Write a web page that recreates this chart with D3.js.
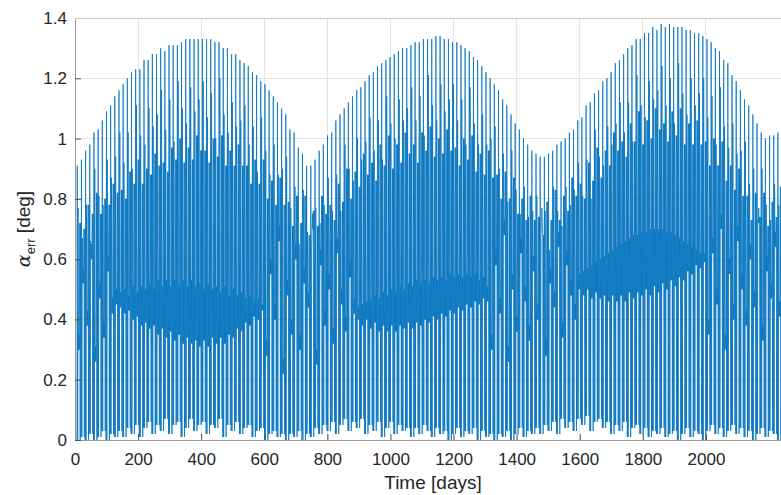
<!DOCTYPE html>
<html><head><meta charset="utf-8">
<script src="https://cdn.jsdelivr.net/npm/d3@7"></script>
<style>
body{margin:0;background:#fff;}
svg{display:block;font-family:"Liberation Sans",Arial,sans-serif;}
</style>
</head><body>
<svg id="c" width="781" height="495"></svg>
<script>
// ---- data ----
const xTicks=[0,200,400,600,800,1000,1200,1400,1600,1800,2000];
const yTicks=[0,0.2,0.4,0.6,0.8,1,1.2,1.4];
const xLimit=[0,2238];
const yLimit=[0,1.4];
const cycleStart=5.9;     // day of the first visible oscillation cycle
const cyclePeriod=13.22;  // days per visible oscillation cycle
const peaks=[0.91,0.93,0.96,0.98,1.02,1.03,1.06,1.09,1.11,1.14,1.16,1.18,1.20,1.22,1.23,1.23,1.26,1.26,1.28,1.28,1.30,1.29,1.31,1.31,1.31,1.32,1.33,1.33,1.33,1.33,1.33,1.33,1.33,1.32,1.32,1.30,1.30,1.28,1.28,1.26,1.25,1.24,1.22,1.21,
1.19,1.18,1.16,1.14,1.12,1.10,1.08,1.03,1.02,0.97,0.95,0.91,0.91,0.93,0.96,0.98,1.01,1.02,1.06,
1.08,1.10,1.12,1.14,1.16,1.17,1.19,1.21,1.22,1.24,1.25,1.26,1.27,1.28,1.29,1.30,1.30,1.31,1.32,1.32,1.33,1.33,1.33,1.34,1.34,1.33,1.33,1.32,1.32,1.31,1.30,1.29,1.27,1.26,1.24,1.22,1.20,1.18,1.16,1.13,1.11,1.08,1.05,1.03,1.00,0.98,0.96,0.95,
0.94,0.94,0.95,0.96,0.98,0.99,1.00,1.02,1.03,1.06,1.07,1.11,1.12,1.15,1.16,1.19,1.20,1.22,1.25,1.26,1.28,1.30,1.31,1.33,1.33,1.35,1.35,1.37,1.36,1.38,1.37,1.38,1.37,1.37,1.37,1.36,1.36,1.35,1.35,1.34,1.33,1.32,1.30,1.29,1.26,1.25,1.21,1.19,1.16,1.13,1.11,1.08,1.05,1.02,1.00,1.01,1.01,1.02];
const secondPeaks=[.77,.67,.78,.66,.90,.81,.78,.93,.87,.94,
1.02,.92,1.02,.90,1.11,1.01,.98,1.10,1.04,1.08,
1.16,1.03,1.13,.99,1.19,1.10,1.05,1.17,1.09,1.13,
1.19,1.07,1.15,1.00,1.20,1.08,1.02,1.12,1.04,1.06,
1.11,.98,1.04,.89,1.07,.96,.88,.98,.88,.90,
.94,.77,.84,.65,.83,.69,.63,.77,.72,.78,
.87,.76,.88,.76,.98,.90,.86,1.00,.93,.99,
1.07,.96,1.06,.93,1.14,1.05,1.00,1.13,1.06,1.10,
1.17,1.06,1.14,1.01,1.21,1.11,1.06,1.18,1.09,1.13,
1.18,1.06,1.13,.98,1.17,1.05,.98,1.08,.98,1.00,
1.04,.90,.95,.79,.96,.83,.75,.84,.74,.76,
.81,.68,.76,.63,.84,.76,.71,.84,.78,.83,
.92,.81,.93,.80,1.03,.94,.91,1.04,.98,1.05,
1.12,1.02,1.12,.99,1.21,1.11,1.07,1.19,1.13,1.16,
1.24,1.11,1.20,1.05,1.25,1.15,1.08,1.20,1.11,1.15,
1.20,1.07,1.14,.98,1.17,1.04,.97,1.05,.95,.96,
.99,.85,.90,.73,.90,.78,.73,.85,.78];
const floors=[0.00,0.01,0.00,0.02,0.00,0.01,0.03,0.00,0.02,0.01,
0.03,0.01,0.04,0.02,0.05,0.01,0.04,0.06,0.02,0.05,
0.03,0.07,0.02,0.05,0.06,0.01,0.04,0.07,0.03,0.05,
0.06,0.02,0.05,0.04,0.07,0.01,0.05,0.03,0.06,0.02,
0.04,0.05,0.01,0.03,0.04,0.00,0.02,0.03,0.01,0.02,
0.00,0.02,0.01,0.03,0.00,0.02,0.01,0.04,0.02,0.05,
0.03,0.06,0.02,0.05,0.07,0.03,0.06,0.04,0.07,0.02,
0.05,0.03,0.06,0.01,0.04,0.06,0.02,0.05,0.03,0.04,
0.01,0.04,0.02,0.05,0.03,0.01,0.04,0.02,0.03,0.00,
0.02,0.04,0.01,0.03,0.02,0.04,0.00,0.03,0.01,0.02,
0.00,0.02,0.01,0.03,0.00,0.02,0.04,0.01,0.03,0.02,
0.04,0.02,0.05,0.03,0.06,0.02,0.07,0.04,0.06,0.03,
0.07,0.05,0.08,0.03,0.06,0.07,0.04,0.06,0.02,0.05,
0.03,0.06,0.01,0.04,0.05,0.02,0.04,0.01,0.03,0.02,
0.04,0.01,0.02,0.03,0.00,0.02,0.04,0.01,0.03,0.02,
0.00,0.03,0.05,0.02,0.04,0.01,0.03,0.05,0.02,0.04,
0.01,0.03,0.00,0.02,0.04,0.01,0.03,0.02,0.00];
const upper=[.72,.70,.78,.75,.82,.75,.80,.78,.85,.82,
.83,.80,.89,.85,.93,.85,.90,.88,.95,.91,
.92,.89,.97,.93,1.00,.92,.97,.93,1.01,.96,
.96,.92,1.00,.94,1.01,.91,.96,.91,.98,.91,
.91,.85,.93,.85,.93,.80,.86,.78,.87,.78,
.79,.71,.81,.72,.81,.68,.76,.71,.81,.75,
.78,.73,.85,.79,.90,.80,.89,.84,.95,.88,
.92,.86,.98,.91,1.01,.90,.98,.92,1.02,.95,
.98,.92,1.02,.96,1.04,.94,1.00,.95,1.03,.96,
.97,.91,1.00,.93,1.01,.89,.95,.88,.96,.87,
.88,.80,.89,.80,.87,.75,.80,.73,.81,.73,
.74,.68,.79,.73,.83,.73,.81,.76,.87,.81,
.85,.80,.92,.86,.97,.87,.96,.91,1.02,.96,
.99,.94,1.05,.99,1.09,.98,1.06,1.00,1.10,1.03,
1.05,.99,1.09,1.01,1.10,.98,1.05,.98,1.06,.98,
.99,.91,1.00,.91,.99,.86,.91,.83,.90,.81,
.81,.73,.82,.74,.82,.71,.79,.74,.84];
const blobLow=[.30,.52,.38,.60,.26,.47,.34,.56,.42,.45,
.44,.42,.43,.40,.41,.38,.39,.37,.38,.35,
.37,.34,.36,.33,.35,.32,.34,.32,.33,.31,
.33,.31,.34,.32,.34,.32,.35,.34,.37,.36,
.39,.38,.41,.40,.43,.28,.55,.40,.66,.22,
.48,.35,.60,.30,.52,.44,.70,.25,.58,.38,
.50,.32,.62,.45,.36,.54,.42,.40,.38,.40,
.37,.39,.36,.38,.36,.38,.36,.38,.37,.39,
.37,.39,.38,.40,.39,.41,.40,.42,.41,.43,
.42,.44,.43,.45,.44,.46,.45,.47,.46,.30,
.58,.42,.68,.26,.50,.36,.62,.46,.33,.56,
.40,.72,.28,.52,.44,.64,.34,.58,.48,.40,
.50,.48,.50,.47,.49,.47,.48,.46,.48,.46,
.48,.46,.49,.47,.49,.48,.50,.48,.51,.49,
.52,.50,.53,.51,.54,.53,.56,.55,.58,.57,
.59,.35,.62,.45,.70,.30,.55,.40,.66,.50,
.38,.60,.44,.72,.33,.56,.47,.64,.41];
const blobHigh=[.35,.57,.43,.65,.31,.52,.39,.61,.47,.50,
.49,.50,.48,.51,.49,.51,.50,.52,.50,.53,
.51,.53,.51,.53,.51,.53,.51,.53,.51,.52,
.50,.52,.50,.51,.49,.51,.48,.50,.48,.49,
.47,.48,.46,.47,.45,.33,.60,.45,.71,.27,
.53,.40,.65,.35,.57,.49,.75,.30,.63,.43,
.55,.37,.67,.50,.41,.59,.47,.44,.45,.46,
.46,.48,.47,.49,.48,.50,.49,.51,.50,.52,
.51,.53,.52,.53,.52,.54,.53,.54,.53,.55,
.54,.55,.54,.55,.54,.55,.53,.54,.51,.35,
.63,.47,.73,.31,.55,.41,.67,.51,.38,.61,
.45,.77,.33,.57,.49,.69,.39,.63,.53,.45,
.55,.56,.57,.58,.59,.60,.61,.62,.63,.64,
.65,.66,.67,.68,.68,.69,.69,.70,.70,.70,
.70,.69,.69,.68,.67,.66,.65,.64,.63,.62,
.62,.40,.67,.50,.75,.35,.60,.45,.71,.55,
.43,.65,.49,.77,.38,.61,.52,.69,.46];

// ---- layout ----
const L=75, R=781, T=18, B=440;
const svg=d3.select("#c");
const x=d3.scaleLinear().domain(xLimit).range([L,R]);
const y=d3.scaleLinear().domain(yLimit).range([B,T]);

// grid
const g=svg.append("g");
g.selectAll(".gx").data(xTicks).enter().append("line")
 .attr("x1",d=>x(d)).attr("x2",d=>x(d)).attr("y1",T).attr("y2",B)
 .attr("stroke","#e4e4e4").attr("stroke-width",1).attr("shape-rendering","crispEdges");
g.selectAll(".gy").data(yTicks).enter().append("line")
 .attr("x1",L).attr("x2",R).attr("y1",d=>y(d)).attr("y2",d=>y(d))
 .attr("stroke","#e4e4e4").attr("stroke-width",1).attr("shape-rendering","crispEdges");

// samples: each visible cycle is drawn from its read values
const pts=[];
peaks.forEach((p,k)=>{
  const seq=[floors[k],peaks[k],floors[k],secondPeaks[k],blobLow[k],blobHigh[k],blobLow[k],upper[k],floors[k],upper[k]];
  seq.forEach((v,j)=>pts.push([cycleStart+(k+j/seq.length)*cyclePeriod, v]));
});
svg.append("clipPath").attr("id","clip").append("rect")
 .attr("x",L).attr("y",T-2).attr("width",R-L).attr("height",B-T+2);
svg.append("path").datum(pts)
 .attr("clip-path","url(#clip)")
 .attr("fill","none").attr("stroke","#0072BD").attr("stroke-width",0.75)
 .attr("d",d3.line().x(d=>x(d[0])).y(d=>y(d[1])));

// axes
const ax=svg.append("g").attr("transform",`translate(0,${B})`)
 .call(d3.axisBottom(x).tickValues(xTicks).tickSize(0).tickPadding(13).tickFormat(d3.format("d")));
const ay=svg.append("g").attr("transform",`translate(${L},0)`)
 .call(d3.axisLeft(y).tickValues(yTicks).tickSize(0).tickPadding(8).tickFormat(d=>String(+d.toFixed(1))));
[ax,ay].forEach(a=>{
  a.select(".domain").attr("stroke","#9a9a9a").attr("stroke-width",1);
  a.selectAll("text").attr("fill","#262626").attr("font-size",17).attr("font-family","Liberation Sans, Arial, sans-serif");
});
ax.selectAll(".tick").append("line").attr("y1",0).attr("y2",-6).attr("stroke","#555");
ay.selectAll(".tick").append("line").attr("x1",0).attr("x2",6).attr("stroke","#555");
svg.append("line").attr("x1",L).attr("x2",R).attr("y1",T+0.5).attr("y2",T+0.5).attr("stroke","#c8c8c8");

// labels
svg.append("text").attr("x",433).attr("y",489).attr("text-anchor","middle")
 .attr("font-size",19).attr("fill","#262626").text("Time [days]");
const yl=svg.append("text").attr("transform","translate(30,229) rotate(-90)")
 .attr("text-anchor","middle").attr("font-size",19).attr("fill","#262626");
yl.append("tspan").attr("font-style","italic").attr("font-family","DejaVu Serif, serif").text("α");
yl.append("tspan").attr("font-size",13).attr("dy",5).text("err");
yl.append("tspan").attr("dy",-5).text(" [deg]");
</script>
</body></html>
